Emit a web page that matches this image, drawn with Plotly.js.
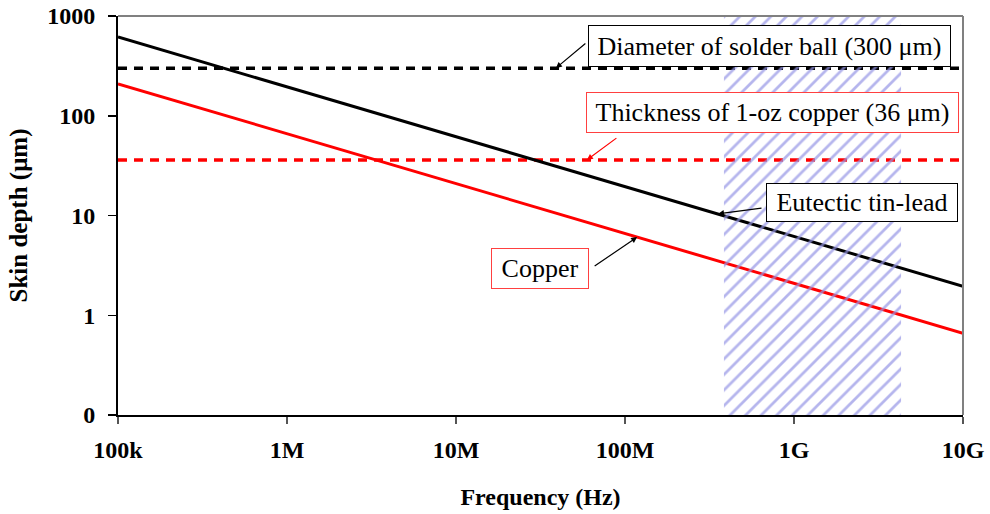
<!DOCTYPE html>
<html>
<head>
<meta charset="utf-8">
<script src="https://cdn.plot.ly/plotly-3.0.1.min.js"></script>
<style>html,body{margin:0;padding:0;background:#fff;}#chart{width:990px;height:514px;}</style>
</head>
<body>
<div id="chart"></div>
<script>
// ---- data ----
const freqHz = [1e5, 1e6, 1e7, 1e8, 1e9, 1e10];
const freqTickText = ['100k', '1M', '10M', '100M', '1G', '10G'];
const copperSkinUm = [209, 66, 21, 6.6, 2.1, 0.66];
const tinLeadSkinUm = [616, 195, 62, 19.5, 6.2, 1.95];
const solderBallDiameterUm = 300;
const copperThicknessUm = 36;
const bandHz = [3.85e8, 4.3e9];
const depthTickVals = [0.1, 1, 10, 100, 1000];
const depthTickText = ['0', '1', '10', '100', '1000'];
// arrow targets (frequency on each curve / line)
const arrowSolderHz = 3.9e7;
const arrowCuThickHz = 5.95e7;
const arrowTinLeadHz = 3.55e8;
const arrowCopperHz = 1.18e8;

const FONT = "Liberation Serif";
const xEnds = [freqHz[0], freqHz[freqHz.length - 1]];
const yEnds = [depthTickVals[0], depthTickVals[depthTickVals.length - 1]];

function interpLog(xs, ys, x) {
  const lx = Math.log10(x);
  for (let i = 0; i < xs.length - 1; i++) {
    const a = Math.log10(xs[i]), b = Math.log10(xs[i + 1]);
    if (lx >= a && lx <= b) {
      const t = (lx - a) / (b - a);
      return Math.log10(ys[i]) + t * (Math.log10(ys[i + 1]) - Math.log10(ys[i]));
    }
  }
  return Math.log10(ys[ys.length - 1]);
}

const traces = [
  { x: xEnds, y: [solderBallDiameterUm, solderBallDiameterUm], mode: 'lines',
    line: { color: '#000', width: 3.5, dash: '9px,7px' }, hoverinfo: 'skip' },
  { x: xEnds, y: [copperThicknessUm, copperThicknessUm], mode: 'lines',
    line: { color: '#ff0000', width: 3.5, dash: '9px,7px' }, hoverinfo: 'skip' },
  { x: freqHz, y: tinLeadSkinUm, mode: 'lines', line: { color: '#000', width: 3 } },
  { x: freqHz, y: copperSkinUm, mode: 'lines', line: { color: '#ff0000', width: 3 } },
  { x: [bandHz[0], bandHz[1], bandHz[1], bandHz[0], bandHz[0]],
    y: [yEnds[0], yEnds[0], yEnds[1], yEnds[1], yEnds[0]],
    mode: 'lines', line: { width: 0 }, fill: 'toself', fillcolor: 'rgba(0,0,0,0)',
    fillpattern: { shape: '/', fgcolor: 'rgba(150,150,230,0.7)', bgcolor: 'rgba(0,0,0,0)', size: 11, solidity: 0.25 },
    hoverinfo: 'skip' }
];

function box(text, px, py, w, h, border) {
  return { xref: 'paper', yref: 'paper', x: px, y: py, xanchor: 'center', yanchor: 'middle',
    text: text, showarrow: false, bgcolor: '#fff', bordercolor: border, borderwidth: 1, borderpad: 1,
    width: w, height: h, font: { family: FONT, size: 26, color: '#000' } };
}
function arrow(xHz, yLog, ax, ay, color) {
  return { xref: 'x', yref: 'y', x: Math.log10(xHz), y: yLog, text: '', showarrow: true,
    ax: ax, ay: ay, arrowhead: 2, arrowsize: 1, arrowwidth: 1.2, arrowcolor: color };
}

const layout = {
  width: 990, height: 514,
  margin: { l: 118, r: 27, t: 16, b: 99 },
  paper_bgcolor: '#fff', plot_bgcolor: '#fff',
  showlegend: false,
  font: { family: FONT, color: '#000' },
  xaxis: {
    type: 'log', range: [Math.log10(xEnds[0]), Math.log10(xEnds[1])],
    tickvals: freqHz, ticktext: freqTickText,
    ticks: 'outside', ticklen: 7, tickwidth: 2, tickcolor: '#555',
    showline: true, linecolor: '#000', linewidth: 2, showgrid: false, zeroline: false,
    tickfont: { family: FONT, size: 24, color: '#000', weight: 'bold' },
    ticklabelstandoff: 5,
    title: { text: '<b>Frequency (Hz)</b>', font: { family: FONT, size: 24, color: '#000' }, standoff: 26 }
  },
  yaxis: {
    type: 'log', range: [Math.log10(yEnds[0]), Math.log10(yEnds[1])],
    tickvals: depthTickVals, ticktext: depthTickText,
    ticks: 'outside', ticklen: 8, tickwidth: 1.5, tickcolor: '#000',
    showline: true, linecolor: '#000', linewidth: 2, showgrid: false, zeroline: false,
    tickfont: { family: FONT, size: 24, color: '#000', weight: 'bold' },
    ticklabelstandoff: 8,
    title: { text: '<b>Skin depth (μm)</b>', font: { family: FONT, size: 25, color: '#000' }, standoff: 12 }
  },
  shapes: [
    { type: 'line', xref: 'paper', yref: 'paper', x0: 0, x1: 1, y0: 1, y1: 1, line: { color: '#808080', width: 2 } },
    { type: 'line', xref: 'paper', yref: 'paper', x0: 1, x1: 1, y0: 0, y1: 1, line: { color: '#808080', width: 2 } }
  ],
  annotations: [
    arrow(arrowSolderHz, Math.log10(solderBallDiameterUm), 31, -26, '#000'),
    arrow(arrowCuThickHz, Math.log10(copperThicknessUm), 31, -23, '#ff0000'),
    arrow(arrowTinLeadHz, interpLog(freqHz, tinLeadSkinUm, arrowTinLeadHz), 45, -6, '#000'),
    arrow(arrowCopperHz, interpLog(freqHz, copperSkinUm, arrowCopperHz), -44, 30, '#000'),
    box('Diameter of solder ball (300 μm)', 0.7710, 0.9248, 359, 38, '#000'),
    box('Thickness of 1-oz copper (36 μm)', 0.7746, 0.7581, 369, 37, '#ff4040'),
    box('Eutectic tin-lead', 0.8805, 0.5326, 188, 35, '#000'),
    box('Copper', 0.4994, 0.3672, 94, 37, '#ff4040')
  ]
};

Plotly.newPlot('chart', traces, layout, { staticPlot: true, displayModeBar: false });
</script>
</body>
</html>
